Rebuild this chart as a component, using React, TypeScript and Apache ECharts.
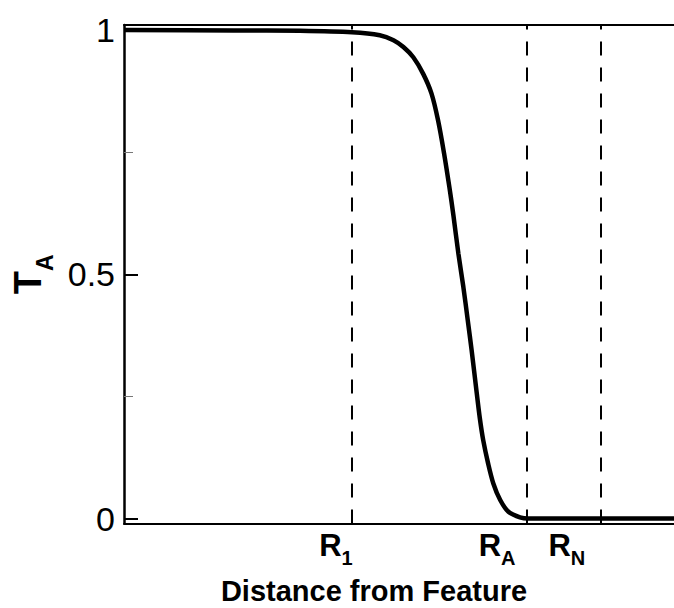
import React, { useEffect, useRef } from "react";
import * as echarts from "echarts";

// distance (arbitrary units, 0..100) and T_A value
const distance = [0, 20, 32, 41.45, 46.5, 49.0, 50.8, 52.6, 54.4, 55.9, 57.1, 58.2, 59.15, 59.9, 60.8, 61.7, 62.5, 63.2, 64.1, 64.7, 65.3, 66.2, 67.15, 68.4, 69.9, 72.0, 73.5, 85, 100];
const tA = [1.0, 0.999, 0.998, 0.995, 0.989, 0.979, 0.965, 0.944, 0.91, 0.87, 0.815, 0.747, 0.679, 0.62, 0.542, 0.474, 0.406, 0.345, 0.26, 0.205, 0.161, 0.113, 0.072, 0.038, 0.014, 0.0025, 0.0, 0.0, 0.0];

// reference radii (dashed lines)
const refNames = ["R1", "RA", "RN"];
const refSubs = ["1", "A", "N"];
const refPositions = [41.45, 73.3, 86.7];
const refLabelShift = [-16, -30, -34];

const yLabelValues = [0, 0.5, 1];
const yMinorValues = [0.25, 0.75];

const FONT = "Liberation Sans, Arial, sans-serif";

export default function App() {
  const ref = useRef<HTMLDivElement>(null);
  useEffect(() => {
    document.body.style.margin = "0";
    if (!ref.current) return;
    const chart = echarts.init(ref.current, null, { renderer: "svg" });
    const subRich: Record<string, any> = {
      r: { fontFamily: FONT, fontSize: 31, fontWeight: "bold", color: "#000", lineHeight: 36 },
    };
    refSubs.forEach((s, i) => {
      subRich["s" + i] = {
        fontFamily: FONT,
        fontSize: 20,
        fontWeight: "bold",
        color: "#000",
        lineHeight: 20,
        padding: [24, 0, 0, 0],
      };
    });
    chart.setOption({
      animation: false,
      backgroundColor: "#fff",
      grid: { left: 124, right: 0, top: 25, bottom: 84.5, containLabel: false, outerBoundsMode: "none" },
      xAxis: [
        {
          type: "value",
          min: 0,
          max: 100,
          position: "bottom",
          name: "Distance from Feature",
          nameLocation: "middle",
          nameGap: 53,
          nameTextStyle: {
            fontFamily: FONT,
            fontSize: 29,
            fontWeight: "bold",
            color: "#000",
            lineHeight: 29,
            padding: [0, 50, 0, 0],
          },
          axisLine: { show: true, onZero: false, lineStyle: { color: "#000", width: 2 } },
          axisTick: { show: false },
          axisLabel: { show: false },
          splitLine: { show: false },
        },
        {
          type: "value",
          min: 0,
          max: 100,
          position: "top",
          axisLine: { show: true, onZero: false, lineStyle: { color: "#000", width: 2 } },
          axisTick: { show: false },
          axisLabel: { show: false },
          splitLine: { show: false },
        },
      ],
      yAxis: [
        {
          type: "value",
          min: -0.01,
          max: 1.01,
          position: "left",
          name: "{t|T}{s|A}",
          nameLocation: "middle",
          nameRotate: 90,
          nameGap: 64,
          nameTextStyle: {
            rich: {
              t: { fontFamily: FONT, fontSize: 38, fontWeight: "bold", color: "#000", lineHeight: 44 },
              s: {
                fontFamily: FONT,
                fontSize: 23,
                fontWeight: "bold",
                color: "#000",
                lineHeight: 23,
                padding: [35, 0, 0, 0],
              },
            },
          },
          axisLine: { show: true, onZero: false, lineStyle: { color: "#000", width: 2.5 } },
          axisTick: {
            show: true,
            inside: true,
            length: 14,
            customValues: yLabelValues,
            lineStyle: { color: "#000", width: 2 },
          },
          axisLabel: {
            show: true,
            customValues: yLabelValues,
            margin: 9,
            fontFamily: FONT,
            fontSize: 34,
            color: "#000",
            formatter: (v: number) => String(v),
          },
          splitLine: { show: false },
        },
        {
          type: "value",
          min: -0.01,
          max: 1.01,
          position: "left",
          axisLine: { show: false, onZero: false },
          axisTick: {
            show: true,
            inside: true,
            length: 9,
            customValues: yMinorValues,
            lineStyle: { color: "#777", width: 1 },
          },
          axisLabel: { show: false },
          splitLine: { show: false },
        },
      ],
      series: [
        {
          type: "line",
          data: distance.map((d, i) => [d, tA[i]]),
          showSymbol: false,
          smooth: 0.3,
          lineStyle: { color: "#000", width: 4.5 },
          itemStyle: { color: "#000" },
          markLine: {
            silent: true,
            symbol: "none",
            animation: false,
            lineStyle: { color: "#000", width: 2, type: [14, 12] },
            label: {
              show: true,
              position: "start",
              distance: 4,
              rich: subRich,
            },
            data: refPositions.map((p, i) => ({
              name: refNames[i],
              xAxis: p,
              label: {
                offset: [refLabelShift[i], 0],
                formatter: () => `{r|R}{s${i}|${refSubs[i]}}`,
              },
            })),
          },
        },
      ],
    });
    return () => chart.dispose();
  }, []);
  return <div ref={ref} style={{ width: 674, height: 608 }} />;
}
